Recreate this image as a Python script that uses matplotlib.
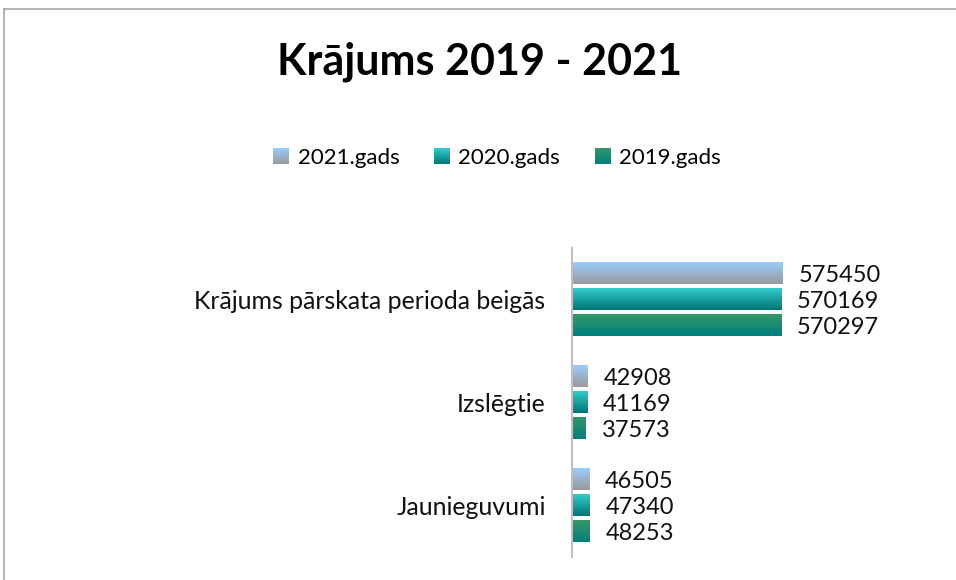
import numpy as np
import matplotlib.pyplot as plt
from matplotlib.lines import Line2D
from matplotlib.patches import Rectangle
from matplotlib.image import BboxImage
from matplotlib.transforms import Bbox, TransformedBbox
from matplotlib.colors import LinearSegmentedColormap

plt.rcParams['font.family'] = ['Lato', 'DejaVu Sans']

# data
categories = ['Jaunieguvumi', 'Izslēgtie', 'Krājums pārskata perioda beigās']
series = ['2021.gads', '2020.gads', '2019.gads']
values = {
    '2021.gads': [46505, 42908, 575450],
    '2020.gads': [47340, 41169, 570169],
    '2019.gads': [48253, 37573, 570297],
}
# gradient top -> bottom for each series
grads = {
    '2021.gads': ('#99CCFF', '#9A9A9A'),
    '2020.gads': ('#33CCCC', '#007676'),
    '2019.gads': ('#339966', '#008080'),
}
offsets = {'2021.gads': 0.2524, '2020.gads': 0.0, '2019.gads': -0.2524}
bar_h = 0.205


def grad_img(name, n=64):
    cmap = LinearSegmentedColormap.from_list(name, list(grads[name]))
    return cmap(np.linspace(0, 1, n)).reshape(n, 1, 4)


class GradHandler:
    def __init__(self, name):
        self.name = name

    def legend_artist(self, legend, orig_handle, fontsize, handlebox):
        x0, y0 = handlebox.xdescent, handlebox.ydescent
        w, h = handlebox.width, handlebox.height
        s = min(w, h)
        bb = Bbox.from_bounds(x0 + w - s, y0 + (h - s) / 2, s, s)
        img = BboxImage(TransformedBbox(bb, handlebox.get_transform()), interpolation='bilinear')
        img.set_data(grad_img(self.name))
        handlebox.add_artist(img)
        return img


fig = plt.figure(figsize=(9.56, 5.80), dpi=100)
ax = fig.add_axes([572 / 956, 23 / 580, 330 / 956, 309 / 580])

y = np.arange(len(categories))
for s in series:
    bars = ax.barh(y + offsets[s], values[s], height=bar_h, color='none', edgecolor='none')
    for b in bars:
        ax.imshow(grad_img(s), extent=(b.get_x(), b.get_x() + b.get_width(), b.get_y(), b.get_y() + b.get_height()),
                  aspect='auto', origin='upper', interpolation='bilinear', zorder=2)
    lbls = ax.bar_label(bars, labels=[str(v) for v in values[s]], padding=11.5, fontsize=17, color='#111111')
    for t in lbls:
        t.set_va('center_baseline')

ax.set_xlim(0, 330 / (211 / 575450))
ax.set_ylim(-0.5, 2.5)
ax.set_aspect('auto')
ax.set_yticks(y)
ax.set_yticklabels(categories, fontsize=17.9, color='#111111')
ax.set_xticks([])
ax.tick_params(axis='y', length=0, pad=19)
for sp in ['top', 'right', 'bottom']:
    ax.spines[sp].set_visible(False)
ax.spines['left'].set_color('#BFBFBF')
ax.spines['left'].set_linewidth(1.5)
ax.set_facecolor('none')

fig.text(480 / 956, 1 - 62 / 580, 'Krājums 2019 - 2021', ha='center', va='center',
         fontsize=31, fontweight='bold', color='#000000')

handles = [Rectangle((0, 0), 1, 1) for s in series]
fig.legend(handles, series, loc='center', bbox_to_anchor=(497 / 956, 1 - 158 / 580), ncol=3,
           frameon=False, fontsize=16, handler_map={h: GradHandler(s) for h, s in zip(handles, series)},
           handlelength=0.7, handleheight=0.7, handletextpad=0.4, columnspacing=1.55)

# chart border (top and left visible)
fig.add_artist(Line2D([4 / 956, 1], [1 - 8.5 / 580] * 2, color='#A6A6A6', lw=1.2))
fig.add_artist(Line2D([4 / 956] * 2, [0, 1 - 8.5 / 580], color='#A6A6A6', lw=1.2))

fig.savefig('out.png', dpi=100)
